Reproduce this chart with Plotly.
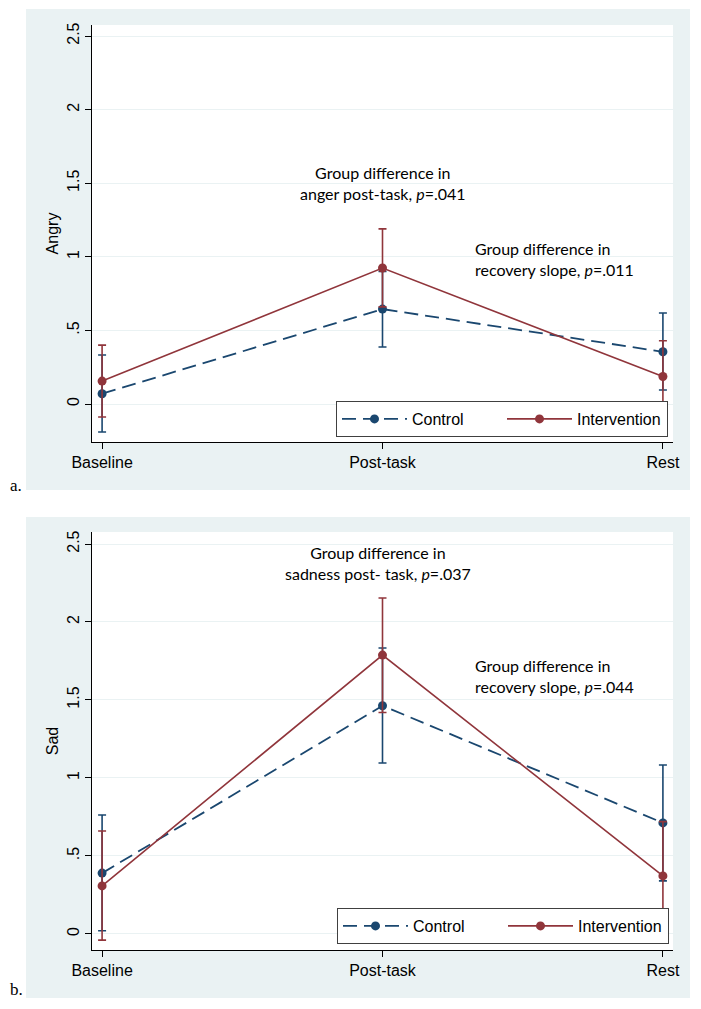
import plotly.graph_objects as go

# ---- data ----
timepoints = ["Baseline", "Post-task", "Rest"]
x_pos = [0, 1, 2]

angry_control = [0.07, 0.645, 0.355]
angry_control_lo = [-0.19, 0.387, 0.095]
angry_control_hi = [0.333, 0.90, 0.618]
angry_interv = [0.156, 0.924, 0.187]
angry_interv_lo = [-0.088, 0.66, -0.06]
angry_interv_hi = [0.40, 1.19, 0.43]

sad_control = [0.39, 1.463, 0.712]
sad_control_lo = [0.02, 1.096, 0.34]
sad_control_hi = [0.763, 1.833, 1.083]
sad_interv = [0.308, 1.788, 0.372]
sad_interv_lo = [-0.04, 1.42, 0.0]
sad_interv_hi = [0.66, 2.154, 0.72]

ytick_vals = [0, 0.5, 1, 1.5, 2, 2.5]
ytick_text = ["0", ".5", "1", "1.5", "2", "2.5"]

NAVY = "#1A476F"
MAROON = "#90353B"
BG = "#EAF2F3"
OFF = 8                 # page body margin of the html page
W, H = 701 - 2 * OFF, 1009 - 2 * OFF


def err(mean, lo, hi, color):
    return dict(type="data", symmetric=False,
                array=[h - m for m, h in zip(mean, hi)],
                arrayminus=[m - l for m, l in zip(mean, lo)],
                color=color, thickness=1.6, width=4)


fig = go.Figure()

panels = [
    ("x", "y", "legend", angry_control, angry_control_lo, angry_control_hi,
     angry_interv, angry_interv_lo, angry_interv_hi),
    ("x2", "y2", "legend2", sad_control, sad_control_lo, sad_control_hi,
     sad_interv, sad_interv_lo, sad_interv_hi),
]
for xa, ya, lg, c, clo, chi, iv, ilo, ihi in panels:
    fig.add_trace(go.Scatter(
        x=x_pos, y=c, xaxis=xa, yaxis=ya, legend=lg, name="Control",
        mode="lines+markers",
        line=dict(color=NAVY, width=1.8, dash="14px,7px"),
        marker=dict(color=NAVY, size=9),
        error_y=err(c, clo, chi, NAVY)))
    fig.add_trace(go.Scatter(
        x=x_pos, y=iv, xaxis=xa, yaxis=ya, legend=lg, name="Intervention",
        mode="lines+markers",
        line=dict(color=MAROON, width=1.6),
        marker=dict(color=MAROON, size=9),
        error_y=err(iv, ilo, ihi, MAROON)))

# plot area geometry (pixels in the 701x1009 window)
pa = dict(x0=92, x1=673, y0=25, y1=442)
pb = dict(x0=92, x1=673, y0=532, y1=950)


def px2x(p):
    return (p - OFF) / W


def px2y(p):
    return 1 - (p - OFF) / H


axis_font = dict(family="Liberation Sans, Arial", size=16, color="black")
common_x = dict(tickmode="array", tickvals=x_pos, ticktext=timepoints,
                showgrid=False, zeroline=False, showline=True,
                linecolor="black", linewidth=1, ticks="outside", ticklen=6,
                tickcolor="black", tickfont=axis_font, automargin=False)
common_y = dict(tickmode="array", tickvals=ytick_vals, ticktext=ytick_text,
                showgrid=True, gridcolor=BG, gridwidth=1, zeroline=False,
                showline=True, linecolor="black", linewidth=1,
                ticks="outside", ticklen=6, tickcolor="black",
                tickfont=axis_font, tickangle=-90, automargin=False)

leg_common = dict(orientation="h", xanchor="right", yanchor="bottom",
                  bgcolor="white", bordercolor="#404040", borderwidth=1,
                  font=axis_font, itemwidth=65, entrywidth=85,
                  itemclick=False)

fig.update_layout(
    template="none",
    width=W, height=H,
    margin=dict(l=0, r=0, t=0, b=0, autoexpand=False),
    paper_bgcolor="white", plot_bgcolor="white",
    xaxis=dict(common_x, domain=[px2x(pa["x0"]), px2x(pa["x1"])],
               range=[-0.036, 2.036], anchor="y"),
    yaxis=dict(common_y, domain=[px2y(pa["y1"]), px2y(pa["y0"])],
               range=[-0.258, 2.575], anchor="x",
               title=dict(text="Angry", font=axis_font, standoff=1)),
    xaxis2=dict(common_x, domain=[px2x(pb["x0"]), px2x(pb["x1"])],
                range=[-0.036, 2.036], anchor="y2"),
    yaxis2=dict(common_y, domain=[px2y(pb["y1"]), px2y(pb["y0"])],
                range=[-0.103, 2.577], anchor="x2",
                title=dict(text="Sad", font=axis_font, standoff=1)),
    legend=dict(leg_common, x=px2x(668), y=px2y(437)),
    legend2=dict(leg_common, x=px2x(669), y=px2y(944)),
    showlegend=True,
)

# outer panel backgrounds and white plot regions
for top, bot, p in [(9, 490, pa), (517, 998, pb)]:
    fig.add_shape(type="rect", xref="paper", yref="paper", layer="below",
                  x0=px2x(26), x1=px2x(690), y0=px2y(bot), y1=px2y(top),
                  fillcolor=BG, line=dict(width=0))
    fig.add_shape(type="rect", xref="paper", yref="paper", layer="below",
                  x0=px2x(p["x0"]), x1=px2x(p["x1"]), y0=px2y(p["y1"]),
                  y1=px2y(p["y0"]), fillcolor="white", line=dict(width=0))

ann_font = dict(family="Lato, Open Sans", size=16, color="black")
fig.add_annotation(xref="x", yref="y", x=1, y=1.50, showarrow=False,
                   text="Group difference in<br>anger post-task, <i>p</i>=.041",
                   font=ann_font, align="center")
fig.add_annotation(xref="x", yref="y", x=1.323, y=0.985, showarrow=False,
                   xanchor="left",
                   text="Group difference in<br>recovery slope, <i>p</i>=.011",
                   font=ann_font, align="left")
fig.add_annotation(xref="x2", yref="y2", x=0.985, y=2.378, showarrow=False,
                   text="Group difference in<br>sadness post- task, <i>p</i>=.037",
                   font=ann_font, align="center")
fig.add_annotation(xref="x2", yref="y2", x=1.323, y=1.654, showarrow=False,
                   xanchor="left",
                   text="Group difference in<br>recovery slope, <i>p</i>=.044",
                   font=ann_font, align="left")

lab_font = dict(family="Liberation Serif, Times New Roman", size=17, color="black")
fig.add_annotation(xref="paper", yref="paper", x=px2x(8), y=px2y(497),
                   xanchor="left", yanchor="bottom", showarrow=False,
                   text="a.", font=lab_font)
fig.add_annotation(xref="paper", yref="paper", x=px2x(8), y=px2y(1001),
                   xanchor="left", yanchor="bottom", showarrow=False,
                   text="b.", font=lab_font)

fig.write_html("out.html")
